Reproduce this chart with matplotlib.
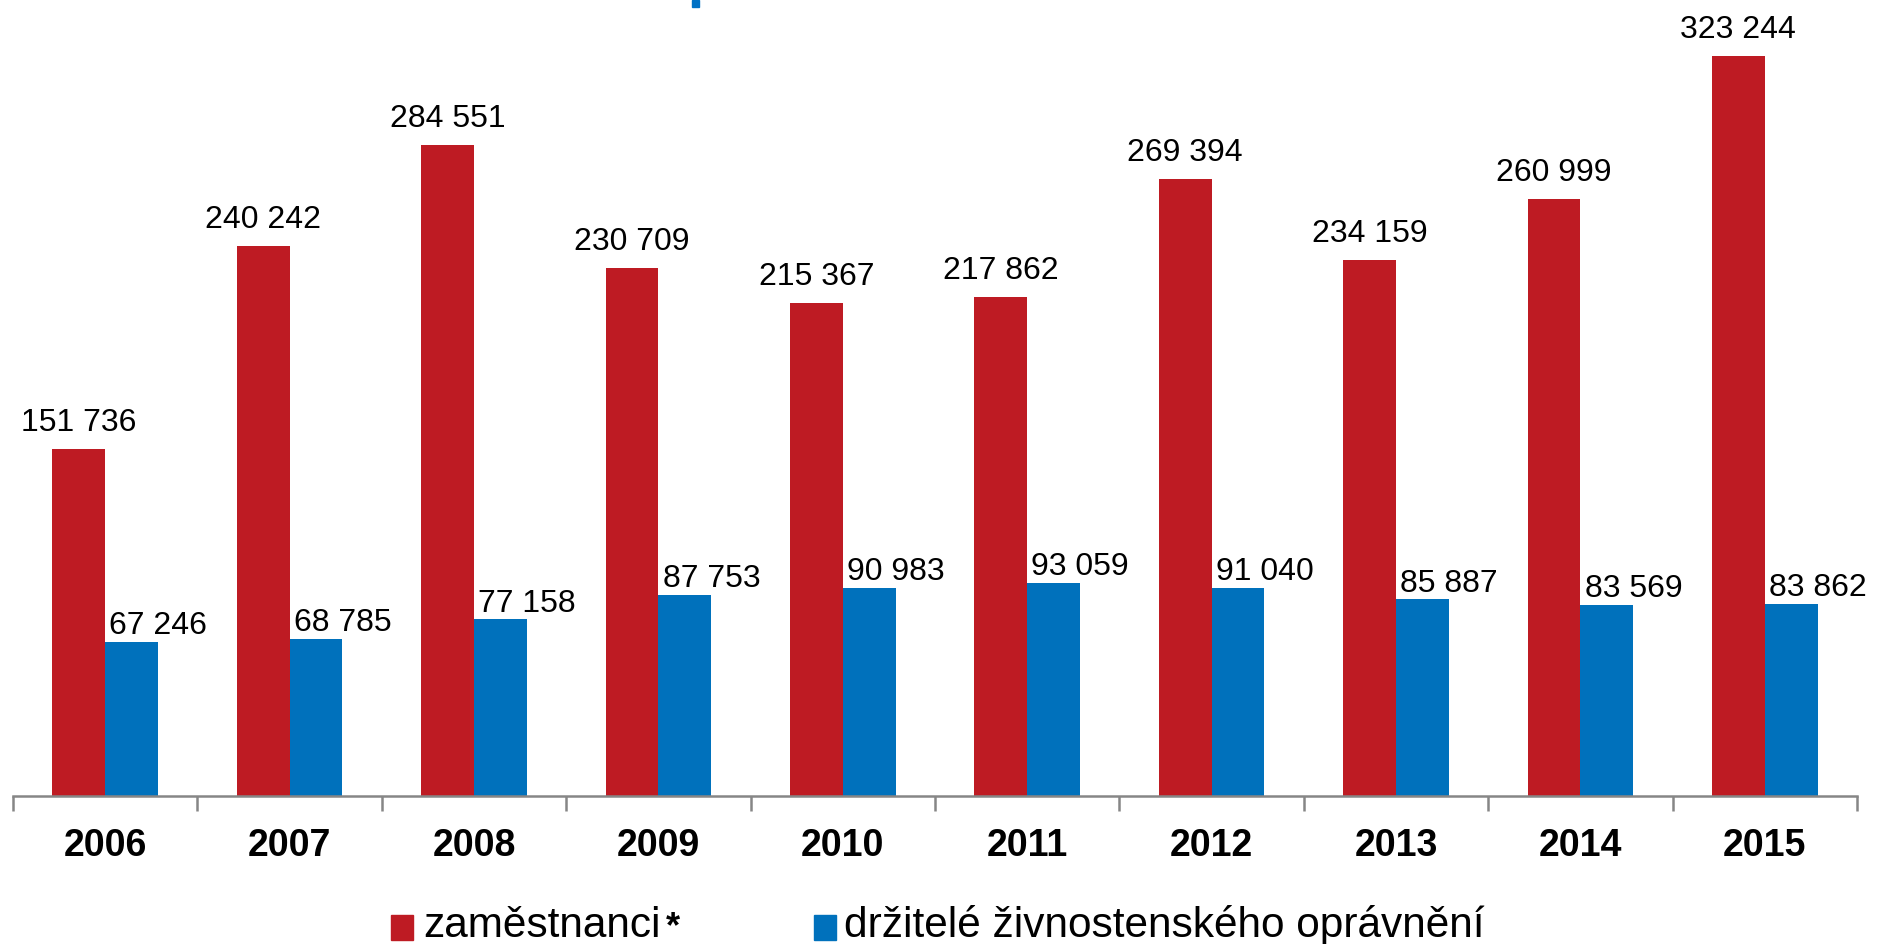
import matplotlib
matplotlib.use("Agg")
import matplotlib.pyplot as plt
from matplotlib.patches import Rectangle
from matplotlib.text import Annotation
import numpy as np

years = ["2006", "2007", "2008", "2009", "2010", "2011", "2012", "2013", "2014", "2015"]
zamestnanci = [151736, 240242, 284551, 230709, 215367, 217862, 269394, 234159, 260999, 323244]
drzitele = [67246, 68785, 77158, 87753, 90983, 93059, 91040, 85887, 83569, 83862]
series_names = ["zaměstnanci", "držitelé živnostenského oprávnění"]

RED = "#BE1B23"
BLUE = "#0071BC"
GREY = "#868686"
REG = ["Liberation Sans", "DejaVu Sans"]

W, H = 1877, 944
fig = plt.figure(figsize=(W / 100, H / 100), dpi=100)
ax = fig.add_axes([13 / W, (H - 796) / H, (1857 - 13) / W, 796 / H])

x = np.arange(len(years))
bw = 0.286
ax.bar(x - bw / 2, zamestnanci, width=bw, color=RED, edgecolor="none")
ax.bar(x + bw / 2, drzitele, width=bw, color=BLUE, edgecolor="none")

fmt = lambda v: f"{v:,}".replace(",", " ")
for xi, v in zip(x, zamestnanci):
    ax.annotate(fmt(v), (xi - bw / 2, v), xytext=(0, 13), textcoords="offset points",
                ha="center", va="baseline", fontsize=23, family=REG, color="black")
for xi, v in zip(x, drzitele):
    ax.annotate(fmt(v), (xi, v), xytext=(3, 5.5), textcoords="offset points",
                ha="left", va="baseline", fontsize=23, family=REG, color="black",
                clip_on=False)

ax.set_xlim(-0.5, len(years) - 0.5)
ax.set_ylim(0, 796 / 0.002289)
ax.set_yticks([])
for s in ["left", "right", "top"]:
    ax.spines[s].set_visible(False)
ax.spines["bottom"].set_color(GREY)
ax.spines["bottom"].set_linewidth(1.8)

ax.set_xticks(np.arange(-0.5, len(years)), labels=[""] * (len(years) + 1))
ax.tick_params(axis="x", which="major", length=11, width=1.8, color=GREY)
ax.set_xticks(x, labels=years, minor=True)
ax.tick_params(axis="x", which="minor", length=0, pad=23)
for lab in ax.get_xticklabels(minor=True):
    lab.set_fontfamily(REG)
    lab.set_fontsize(27)
    lab.set_fontweight("bold")

# legend (manual)
fig.patches.append(Rectangle((391 / W, (H - 940) / H), 22 / W, 25 / H,
                             transform=fig.transFigure, color=RED, figure=fig))
t1 = fig.text(423 / W, (H - 937) / H, series_names[0], fontsize=30.5, family=REG,
              ha="left", va="baseline")
fig.add_artist(Annotation(
    "*", xy=(1, 0), xycoords=t1, xytext=(4, 6), textcoords="offset points",
    fontsize=26, family=REG, fontweight="bold", ha="left", va="baseline"))
fig.patches.append(Rectangle((814 / W, (H - 940) / H), 22 / W, 25 / H,
                             transform=fig.transFigure, color=BLUE, figure=fig))
fig.text(844 / W, (H - 937) / H, series_names[1], fontsize=30.5, family=REG,
         ha="left", va="baseline")

# fragment of cut-off title at the top edge
fig.patches.append(Rectangle((692 / W, (H - 7) / H), 7 / W, 7 / H,
                             transform=fig.transFigure, color="#0071C5", figure=fig))

fig.savefig("out.png", dpi=100, facecolor="white")
